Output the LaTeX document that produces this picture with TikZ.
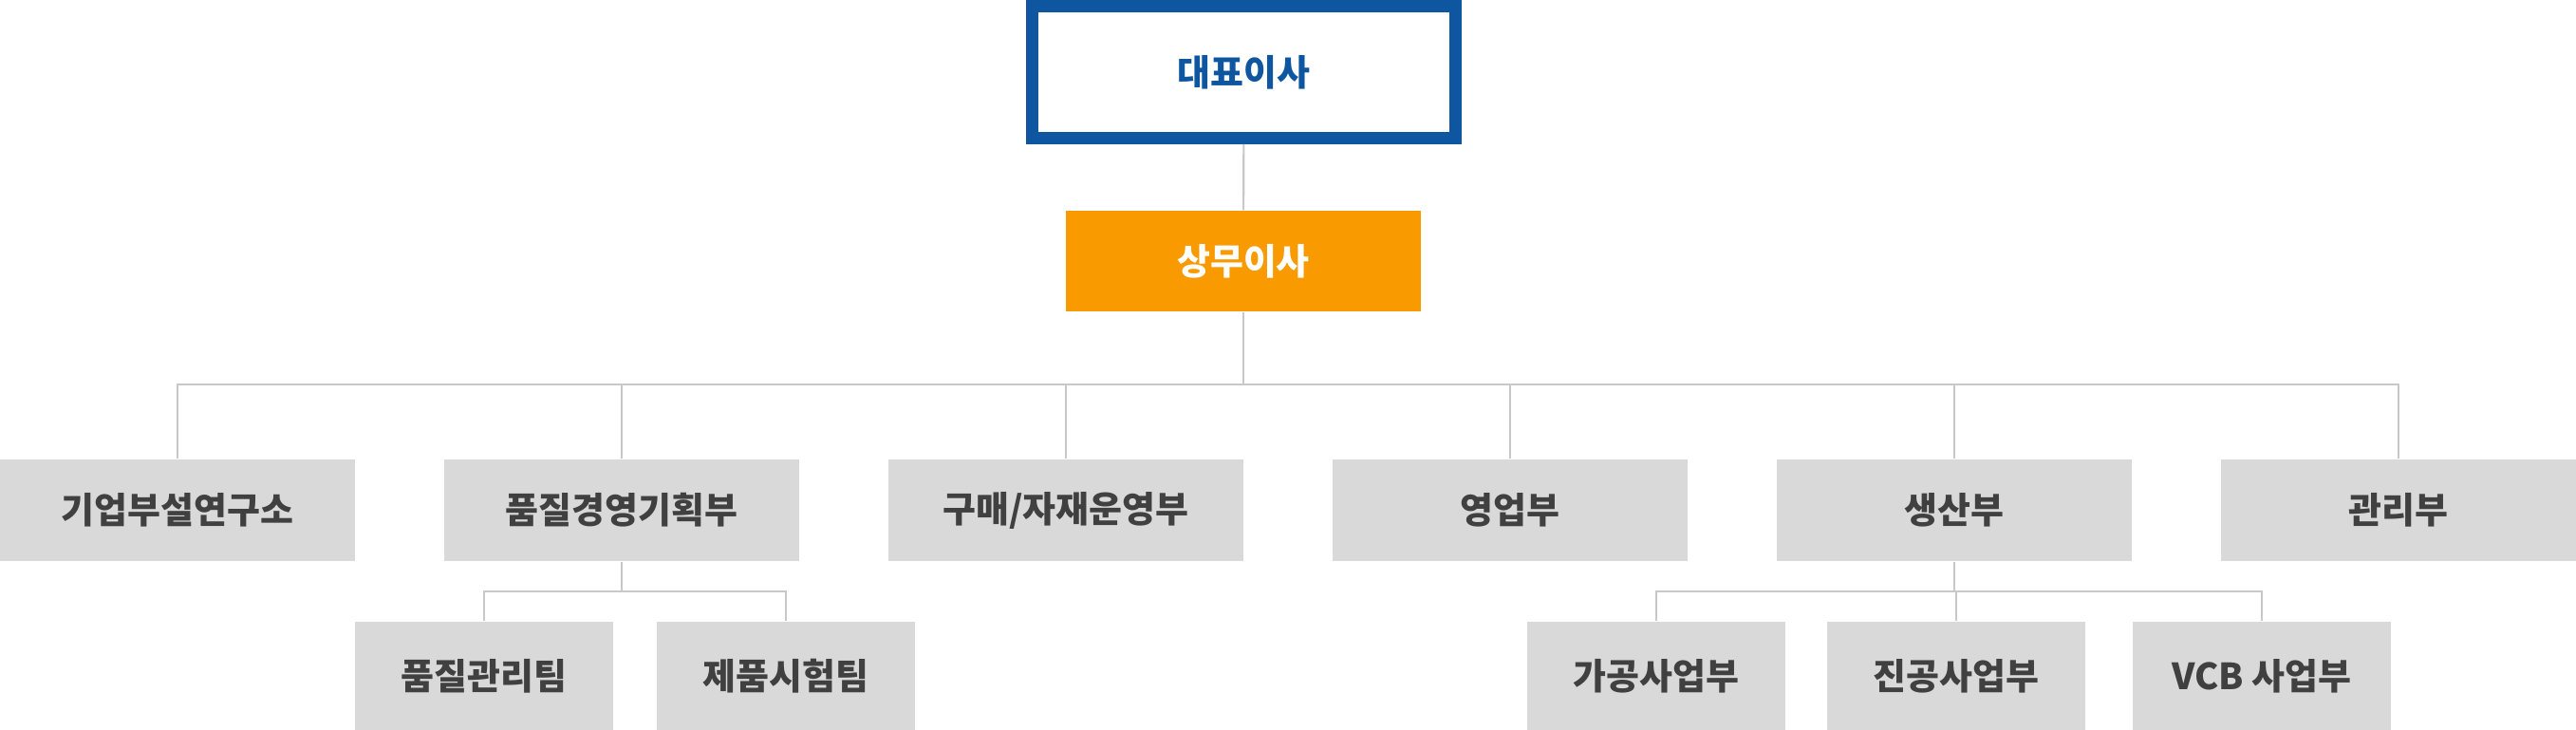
\documentclass[tikz,border=0pt]{standalone}
\usepackage{fontspec}
\newfontfamily\krfont{Noto Sans CJK KR}
\definecolor{ceoblue}{RGB}{15,86,160}
\definecolor{execorange}{RGB}{249,154,0}
\definecolor{deptgrey}{RGB}{217,217,217}
\definecolor{deptText}{RGB}{64,64,64}
\definecolor{linkgrey}{RGB}{200,200,200}
\tikzset{
	dept/.style={fill=deptgrey,text=deptText,minimum width=3.74cm,minimum height=1.07cm,inner sep=0pt},
	team/.style={fill=deptgrey,text=deptText,minimum width=2.72cm,minimum height=1.14cm,inner sep=0pt},
	link/.style={draw=linkgrey,line width=0.6pt}
}
\begin{document}
\begin{tikzpicture}[font=\krfont\bfseries\fontsize{10.8}{13}\selectfont]
	\useasboundingbox (0,0) rectangle (27.14,-7.69);
	
	%Top
	\node[draw=ceoblue,line width=0.13cm,text=ceoblue,minimum width=4.46cm,minimum height=1.39cm,inner sep=0pt] at (13.105,-0.76) (ceo) {대표이사};
	\node[fill=execorange,text=white,minimum width=3.74cm,minimum height=1.06cm,inner sep=0pt] at (13.10,-2.75) (exec) {상무이사};
	
	%Departments
	\node[dept] at (1.87,-5.375) (lab) {기업부설연구소};
	\node[dept] at (6.55,-5.375) (quality) {품질경영기획부};
	\node[dept] at (11.23,-5.375) (purchase) {구매/자재운영부};
	\node[dept] at (15.91,-5.375) (sales) {영업부};
	\node[dept] at (20.59,-5.375) (prod) {생산부};
	\node[dept] at (25.27,-5.375) (admin) {관리부};
	
	%Teams
	\node[team] at (5.10,-7.12) (qc) {품질관리팀};
	\node[team] at (8.28,-7.12) (test) {제품시험팀};
	\node[team] at (17.45,-7.12) (machining) {가공사업부};
	\node[team] at (20.61,-7.12) (vacuum) {진공사업부};
	\node[team] at (23.83,-7.12) (vcb) {VCB 사업부};
	
	%Lines
	\coordinate (bus) at (13.10,-4.05);
	\coordinate (qbus) at (6.55,-6.23);
	\coordinate (pbus) at (20.59,-6.23);
	\draw[link] (ceo) -- (exec);
	\draw[link] (exec) -- (bus);
	\foreach \d in {lab,quality,purchase,sales,prod,admin}
		\draw[link] (bus) -| (\d.north);
	\draw[link] (quality) -- (qbus);
	\foreach \t in {qc,test}
		\draw[link] (qbus) -| (\t.north);
	\draw[link] (prod) -- (pbus);
	\foreach \t in {machining,vacuum,vcb}
		\draw[link] (pbus) -| (\t.north);
	
\end{tikzpicture}
\end{document}
